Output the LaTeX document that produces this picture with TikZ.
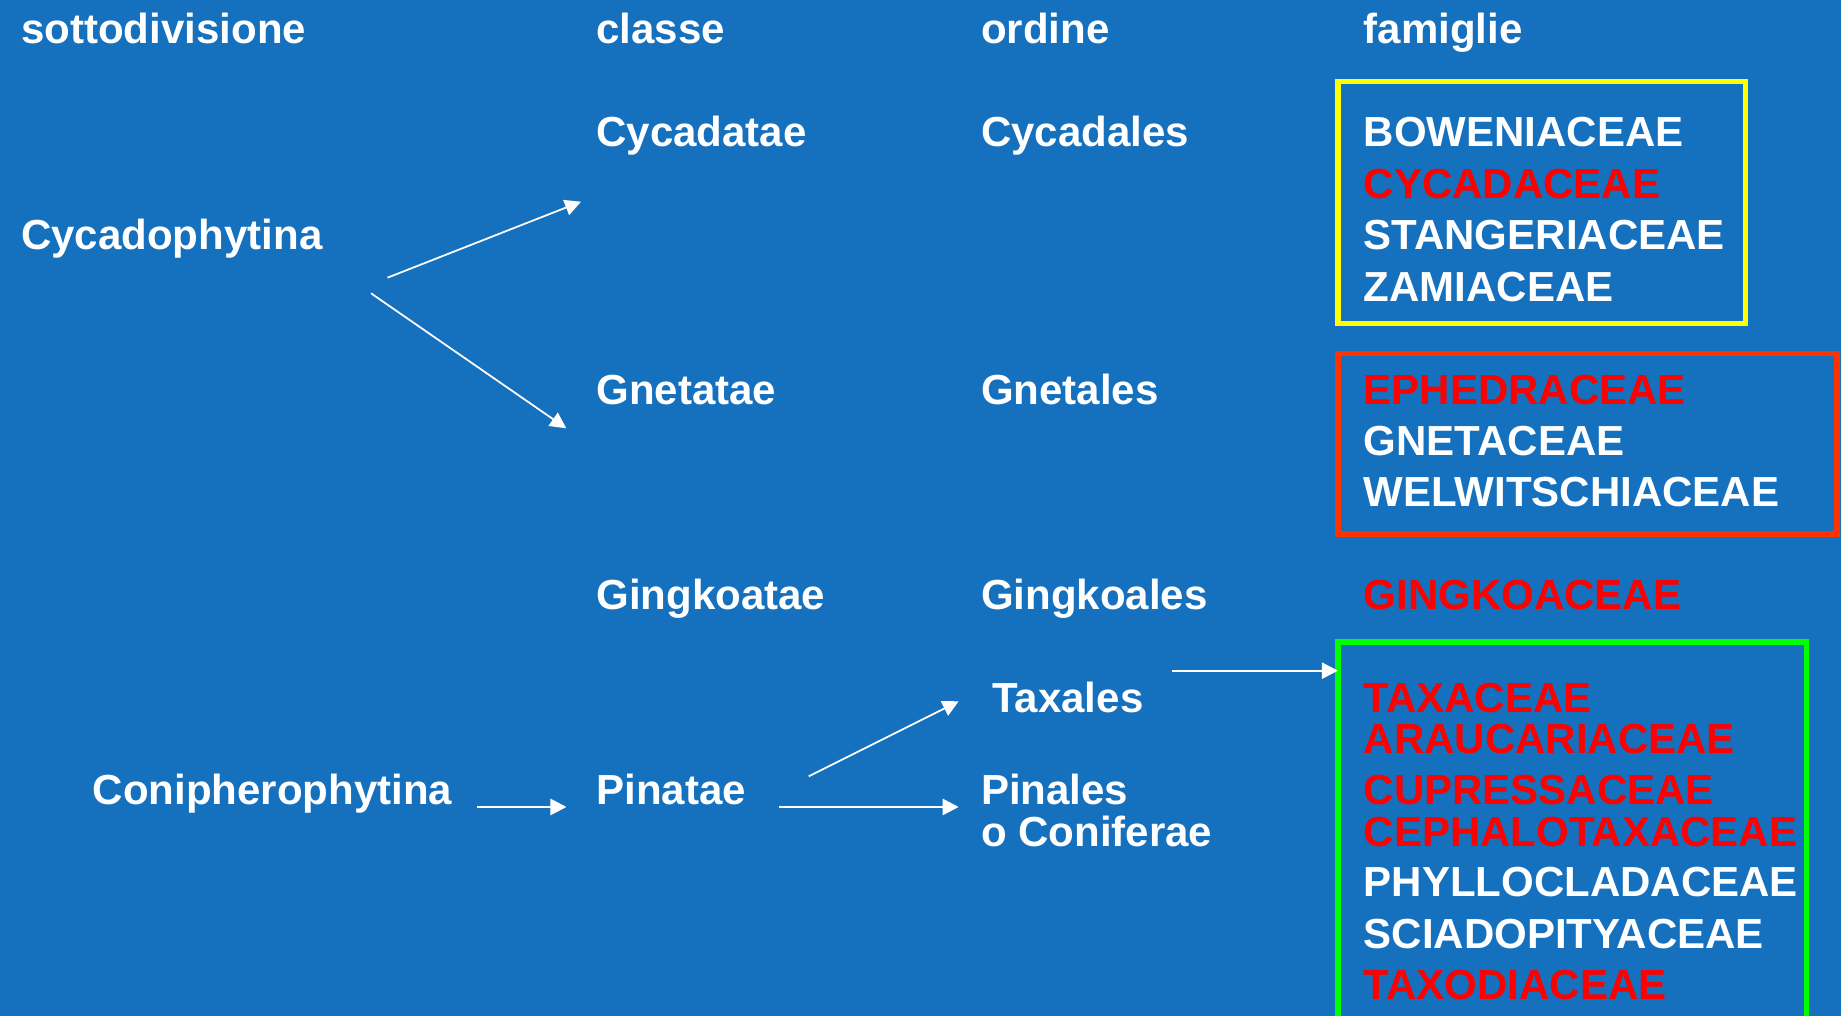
\documentclass[tikz,border=0pt]{standalone}
\usepackage{fontspec}
\setmainfont{Liberation Sans}
\usetikzlibrary{arrows.meta}
\definecolor{bgblue}{RGB}{21,112,190}
\definecolor{famred}{RGB}{255,0,0}
\definecolor{boxyellow}{RGB}{255,255,0}
\definecolor{boxred}{RGB}{255,51,0}
\definecolor{boxgreen}{RGB}{0,255,0}

\begin{document}
\begin{tikzpicture}[x=0.01cm, y=-0.01cm,
    lbl/.style={anchor=base west, inner sep=0, text=white, font=\bfseries\fontsize{11.95}{14}\selectfont},
    hot/.style={lbl, text=famred},
    fambox/.style={draw, line width=1.55pt, anchor=north west, inner sep=0, outer sep=0},
    arr/.style={white, line width=0.5pt, -{Triangle[length=0.16cm, width=0.16cm]}},
    thickarr/.style={arr, line width=0.77pt}]
    \useasboundingbox (0,0) rectangle (1841,1016);
    \fill[bgblue] (0,0) rectangle (1841,1016);
    \clip (0,0) rectangle (1841,1016);

    \node[lbl] (hsub) at (20.5,43.3) {sottodivisione};
    \node[lbl] (hcls) at (595.6,43.3) {classe};
    \node[lbl] (hord) at (980.4,43.3) {ordine};
    \node[lbl] (hfam) at (1363,43.3) {famiglie};

    \node[fambox, draw=boxyellow, minimum width=4.07cm, minimum height=2.42cm] (cycbox) at (1338,81.5) {};
    \node[fambox, draw=boxred, minimum width=4.987cm, minimum height=1.805cm] (gnebox) at (1338,353.5) {};
    \node[fambox, draw=boxgreen, minimum width=4.68cm, minimum height=3.83cm] (conifbox) at (1338,642) {};

    \node[lbl] (Cycadophytina) at (20.5,250) {Cycadophytina};
    \node[lbl] (Cycadatae) at (595.6,146.7) {Cycadatae};
    \node[lbl] (Cycadales) at (980.4,146.7) {Cycadales};
    \node[lbl] (Boweniaceae) at (1363,146.7) {BOWENIACEAE};
    \node[hot] (Cycadaceae) at (1363,199) {CYCADACEAE};
    \node[lbl] (Stangeriaceae) at (1363,250) {STANGERIACEAE};
    \node[lbl] (Zamiaceae) at (1363,301.7) {ZAMIACEAE};

    \node[lbl] (Gnetatae) at (595.6,405) {Gnetatae};
    \node[lbl] (Gnetales) at (980.4,405) {Gnetales};
    \node[hot] (Ephedraceae) at (1363,405) {EPHEDRACEAE};
    \node[lbl] (Gnetaceae) at (1363,455.7) {GNETACEAE};
    \node[lbl] (Welwitschiaceae) at (1363,506.7) {WELWITSCHIACEAE};

    \node[lbl] (Gingkoatae) at (595.6,609.7) {Gingkoatae};
    \node[lbl] (Gingkoales) at (980.4,609.7) {Gingkoales};
    \node[hot] (Gingkoaceae) at (1363,609.7) {GINGKOACEAE};

    \node[lbl] (Conipherophytina) at (92,804.7) {Conipherophytina};
    \node[lbl] (Pinatae) at (595.6,804.7) {Pinatae};
    \node[lbl] (Taxales) at (991.6,713) {Taxales};
    \node[lbl] (Pinales) at (980.4,804.7) {Pinales};
    \node[lbl] (Coniferae) at (980.4,846.3) {o Coniferae};
    \node[hot] (Taxaceae) at (1363,713) {TAXACEAE};
    \node[hot] (Araucariaceae) at (1363,754) {ARAUCARIACEAE};
    \node[hot] (Cupressaceae) at (1363,804.7) {CUPRESSACEAE};
    \node[hot] (Cephalotaxaceae) at (1363,846.3) {CEPHALOTAXACEAE};
    \node[lbl] (Phyllocladaceae) at (1363,897) {PHYLLOCLADACEAE};
    \node[lbl] (Sciadopityaceae) at (1363,949) {SCIADOPITYACEAE};
    \node[hot] (Taxodiaceae) at (1363,999.7) {TAXODIACEAE};

    \coordinate (cycado-up) at (387.5,277.7);
    \coordinate (cycado-down) at (371,293.3);
    \coordinate (cycadatae-in) at (581,201.7);
    \coordinate (gnetatae-in) at (566.3,428.3);
    \coordinate (conipher-out) at (476.5,807);
    \coordinate (pinatae-in) at (566.5,807);
    \coordinate (pinatae-up) at (808.7,776.3);
    \coordinate (pinatae-right) at (778.8,807);
    \coordinate (taxales-in) at (958.7,701.3);
    \coordinate (pinales-in) at (958.7,807);
    \coordinate (taxales-out) at (1172.3,670.7);

    \draw[arr] (cycado-up) -- (cycadatae-in);
    \draw[arr] (cycado-down) -- (gnetatae-in);
    \draw[thickarr] (conipher-out) -- (pinatae-in);
    \draw[arr] (pinatae-up) -- (taxales-in);
    \draw[thickarr] (pinatae-right) -- (pinales-in);
    \draw[arr, line width=0.6pt] (taxales-out) -- (conifbox.west |- taxales-out);
\end{tikzpicture}
\end{document}
